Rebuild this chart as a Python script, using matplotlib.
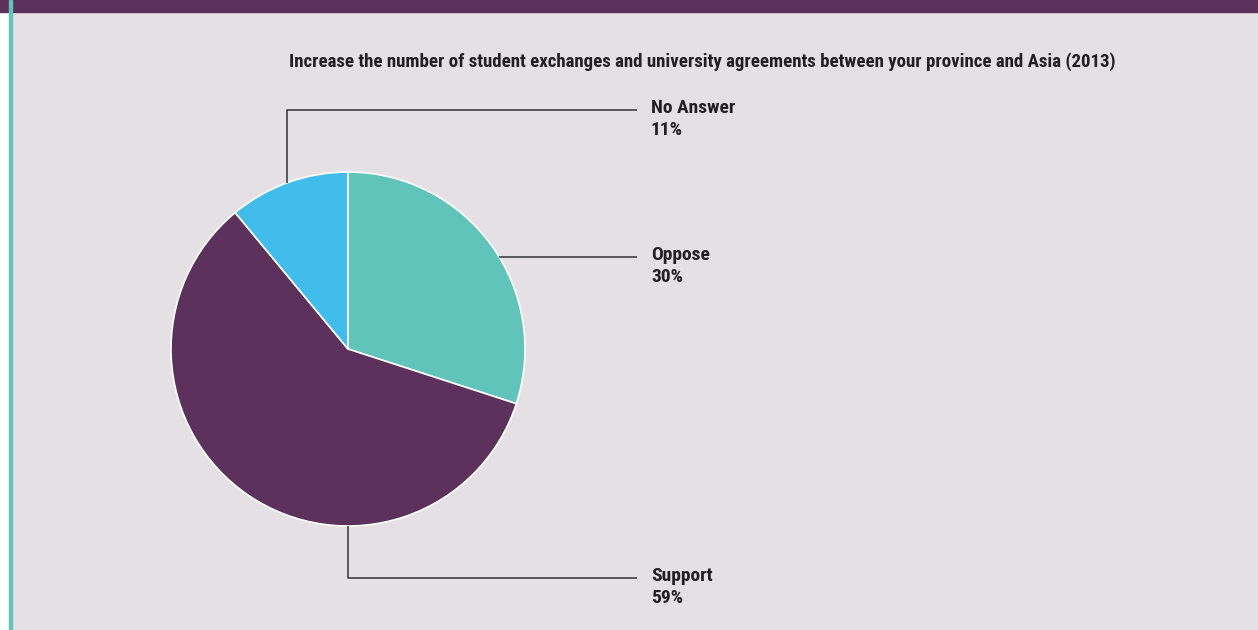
import matplotlib.pyplot as plt
from matplotlib.patches import Rectangle
from matplotlib import font_manager
import numpy as np

# data
labels = ["Oppose", "Support", "No Answer"]
values = [30, 59, 11]
colors = ["#60C4BA", "#5C315C", "#41BCEB"]
title = "Increase the number of student exchanges and university agreements between your province and Asia (2013)"

# layout (pixels, y measured from top)
W, H = 1258, 630
cx, cy, r = 348, 349, 177
anchor_deg = {"Oppose": 31.3, "Support": -90, "No Answer": 110}
label_y = {"Oppose": 257, "Support": 578, "No Answer": 110}
line_end_x = 637
text_x = 651
title_width = 822      # px, as in the reference
label_ref_width = 84   # px width of "No Answer"

# pick the narrowest available bold sans
installed = {f.name for f in font_manager.fontManager.ttflist}
for cand in ["Liberation Sans Narrow", "Roboto Condensed", "DejaVu Sans Condensed",
             "Roboto", "Liberation Sans", "DejaVu Sans"]:
    if cand in installed:
        FONT = [cand, "DejaVu Sans"]
        break

BG = "#E5E0E4"
INK = "#231F20"

fig = plt.figure(figsize=(W / 100, H / 100), dpi=100, facecolor="white")
ax = fig.add_axes([0, 0, 1, 1])

# panel background, top band and left rule
ax.add_patch(Rectangle((12, 0), W - 12, H - 12, color=BG, zorder=0))
ax.add_patch(Rectangle((0, H - 12), W, 12, color="#5C315C", zorder=1))
ax.add_patch(Rectangle((9, 0), 3, H, color="#60C4BA", zorder=2))

ax.pie(values, colors=colors, startangle=90, counterclock=False,
       center=(cx, H - cy), radius=r, frame=True,
       wedgeprops=dict(edgecolor="white", linewidth=1.2))
ax.set_xlim(0, W)
ax.set_ylim(0, H)
ax.set_aspect("equal")
ax.axis("off")

renderer = fig.canvas.get_renderer()


def fitted_size(text, width, base=13):
    t = ax.text(0, 0, text, fontsize=base, fontweight="bold", family=FONT)
    w = t.get_window_extent(renderer).width
    t.remove()
    return base * width / w


lab_fs = fitted_size("No Answer", label_ref_width)
title_fs = fitted_size(title, title_width)

for lab, val in zip(labels, values):
    a = np.deg2rad(anchor_deg[lab])
    x0 = cx + r * np.cos(a)
    y0 = (H - cy) + r * np.sin(a)
    ly = H - label_y[lab]
    ax.plot([x0, x0, line_end_x], [y0, ly, ly], color="#333333", lw=1.1,
            solid_capstyle="butt", zorder=3)
    ax.text(text_x, ly + 2, lab, fontsize=lab_fs, fontweight="bold", family=FONT,
            color=INK, ha="left", va="center")
    ax.text(text_x, ly - 20, f"{val}%", fontsize=lab_fs, fontweight="bold", family=FONT,
            color=INK, ha="left", va="center")

ax.text(289, H - 62, title, fontsize=title_fs, fontweight="bold", family=FONT,
        color=INK, ha="left", va="center")

fig.savefig("out.png", dpi=100, facecolor="white")
